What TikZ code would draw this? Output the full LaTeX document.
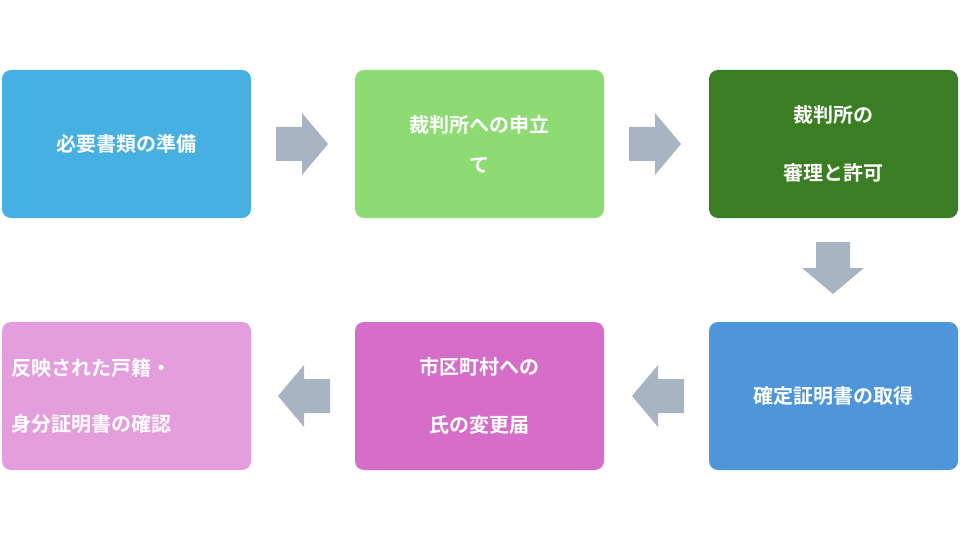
\documentclass[tikz,border=0pt]{standalone}
\usepackage{fontspec}
\newfontfamily\cjk{Noto Sans CJK JP}[BoldFont={Noto Sans CJK JP Bold}]
\definecolor{cA}{HTML}{45B0E1}
\definecolor{cB}{HTML}{8FDB73}
\definecolor{cC}{HTML}{3A7D22}
\definecolor{cD}{HTML}{4E95D9}
\definecolor{cE}{HTML}{D56DC9}
\definecolor{cF}{HTML}{E49EDD}
\definecolor{ar}{HTML}{A9B4C2}
\begin{document}
\begin{tikzpicture}[x=1pt,y=-1pt,
  box/.style={rounded corners=9pt,minimum width=249pt,minimum height=148pt,inner sep=0pt,text=white,font=\cjk\bfseries\fontsize{20}{20}\selectfont},
  arr/.style={fill=ar,draw=none}]
\useasboundingbox (0,0) rectangle (960,540);
\node[box,fill=cA] (a) at (126.5,144) {必要書類の準備};
\node[box,fill=cB,align=center] (b) at (479.5,144) {裁判所への申立\\[20pt]て};
\node[box,fill=cC,align=center] (c) at (833.5,144) {裁判所の\\[38pt]審理と許可};
\node[box,fill=cD] (d) at (833.5,396) {確定証明書の取得};
\node[box,fill=cE,align=center] (e) at (479.5,396) {市区町村への\\[38pt]氏の変更届};
\node[box,fill=cF,align=left,text width=230pt] (f) at (126.5,396) {反映された戸籍・\\[36pt]身分証明書の確認};
% right arrows
\fill[arr] (276,127) -- (302,127) -- (302,113) -- (328,144) -- (302,175) -- (302,161) -- (276,161) -- cycle;
\fill[arr] (629,127) -- (655,127) -- (655,113) -- (681,144) -- (655,175) -- (655,161) -- (629,161) -- cycle;
% down arrow
\fill[arr] (816,242) -- (850,242) -- (850,268) -- (864,268) -- (833,294) -- (802,268) -- (816,268) -- cycle;
% left arrows
\fill[arr] (684,379) -- (658,379) -- (658,365) -- (632,396) -- (658,427) -- (658,413) -- (684,413) -- cycle;
\fill[arr] (330,379) -- (304,379) -- (304,365) -- (278,396) -- (304,427) -- (304,413) -- (330,413) -- cycle;
\end{tikzpicture}
\end{document}
